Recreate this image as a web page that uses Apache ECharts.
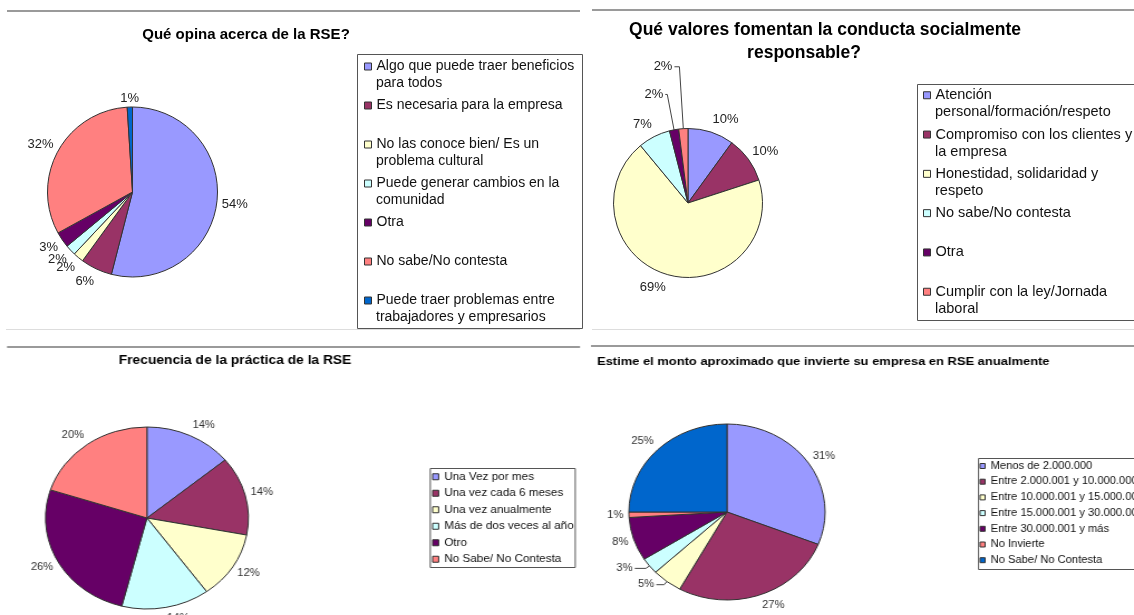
<!DOCTYPE html>
<html style="height:100%">

<head>
    <meta charset="utf-8">
    <script type="text/javascript" src="https://cdn.jsdelivr.net/npm/echarts@6/dist/echarts.min.js"></script>
    <title>RSE</title>
</head>

<body style="height: 100%; margin: 0; background: #fff">
    <!-- mitad superior -->
    <div id="arriba" style="position:absolute; left:0; top:0; width:1134px; height:340px"></div>
    <!-- mitad inferior: la imagen original está estirada en horizontal -->
    <div id="abajo" style="position:absolute; left:0; top:340px; width:1017px; height:275px; transform:scaleX(1.115); transform-origin:0 0"></div>
    <script type="text/javascript">
    var FUENTE = '"Liberation Sans", Arial, sans-serif';
    // paleta por defecto de Excel
    var colores = ['#9999FF', '#993366', '#FFFFCC', '#CCFFFF', '#660066', '#FF8080', '#0066CC'];

    // Qué opina acerca de la RSE?
    var opinaNombres = [
        'Algo que puede traer beneficios\npara todos',
        'Es necesaria para la empresa',
        'No las conoce bien/ Es un\nproblema cultural',
        'Puede generar cambios en la\ncomunidad',
        'Otra',
        'No sabe/No contesta',
        'Puede traer problemas entre\ntrabajadores y empresarios'
    ];
    var opinaValores = [54, 6, 2, 2, 3, 32, 1];

    // Qué valores fomentan la conducta socialmente responsable?
    var valoresNombres = [
        'Atención\npersonal/formación/respeto',
        'Compromiso con los clientes y\nla empresa',
        'Honestidad, solidaridad y\nrespeto',
        'No sabe/No contesta',
        'Otra',
        'Cumplir con la ley/Jornada\nlaboral'
    ];
    var valoresValores = [10, 10, 69, 7, 2, 2];

    // Frecuencia de la práctica de la RSE
    var frecuenciaNombres = [
        'Una Vez por mes',
        'Una vez cada 6 meses',
        'Una vez anualmente',
        'Más de dos veces al año',
        'Otro',
        'No Sabe/ No Contesta'
    ];
    var frecuenciaValores = [14, 14, 12, 14, 26, 20];

    // Monto que invierte la empresa en RSE
    var montoNombres = [
        'Menos de 2.000.000',
        'Entre 2.000.001 y 10.000.000',
        'Entre 10.000.001 y 15.000.000',
        'Entre 15.000.001 y 30.000.000',
        'Entre 30.000.001 y más',
        'No Invierte',
        'No Sabe/ No Contesta'
    ];
    var montoValores = [31, 27, 5, 3, 8, 1, 25];

    // líneas guía de las etiquetas pequeñas (por índice)
    var guiasValores = { 4: { show: true, length: 36, length2: 2 }, 5: { show: true, length: 62, length2: 5 } };
    var guiasMonto = { 2: { show: true, length: 4, length2: 7 }, 3: { show: true, length: 4, length2: 10 } };

    function angulosMedios(valores) {
        var total = 0, acum = 0;
        valores.forEach(function(v) { total += v; });
        return valores.map(function(v) {
            var m = (acum + v / 2) / total * 2 * Math.PI;
            acum += v;
            return m;
        });
    }

    function datos(nombres, valores, guias) {
        return nombres.map(function(n, i) {
            var d = { name: n, value: valores[i], itemStyle: { color: colores[i] } };
            if (guias && guias[i]) d.labelLine = guias[i];
            return d;
        });
    }

    // etiquetas al estilo Excel: fuera del sector, alineadas según el ángulo
    function pastel(nombres, valores, centro, radio, tam, colorEtiqueta, guias) {
        var medios = angulosMedios(valores);
        return {
            type: 'pie',
            center: centro,
            radius: radio,
            startAngle: 90,
            clockwise: true,
            avoidLabelOverlap: false,
            silent: true,
            animation: false,
            itemStyle: { borderColor: '#333', borderWidth: 1 },
            label: { formatter: '{c}%', fontSize: tam, fontFamily: FUENTE, color: colorEtiqueta, distanceToLabelLine: 2 },
            labelLine: { show: false, length: 6, length2: 0, lineStyle: { color: '#444', width: 1 } },
            labelLayout: function(p) {
                if (guias && guias[p.dataIndex]) return { hideOverlap: false };
                var a = medios[p.dataIndex], s = Math.sin(a), c = Math.cos(a);
                var R = radio + 5;
                var centrada = Math.abs(s) <= 0.15;
                return {
                    x: centro[0] + R * s,
                    y: centro[1] - R * c - c * tam * (centrada ? 0.3 : 0.65),
                    align: centrada ? 'center' : (s > 0 ? 'left' : 'right'),
                    hideOverlap: false
                };
            },
            data: datos(nombres, valores, guias)
        };
    }

    // una leyenda por renglón para fijar la posición de cada fila
    function leyendas(nombres, x, y0, paso, tam, alto, iconoW, iconoH) {
        var lista = [];
        nombres.forEach(function(n, i) {
            n.split('\n').forEach(function(texto, j) {
                lista.push({
                    data: [{ name: n, icon: j === 0 ? 'rect' : 'none', itemStyle: { color: colores[i] } }],
                    formatter: function() { return texto; },
                    left: x,
                    top: y0 + i * paso + j * alto - tam / 2,
                    padding: 0,
                    itemWidth: iconoW,
                    itemHeight: iconoH,
                    selectedMode: false,
                    itemStyle: { borderColor: '#333', borderWidth: 1 },
                    textStyle: { fontSize: tam, fontFamily: FUENTE, color: '#111' }
                });
            });
        });
        return lista;
    }

    function titulo(texto, x, y, tam, alinear) {
        return {
            text: texto, left: x, top: y, padding: 0, textAlign: alinear,
            textStyle: { fontSize: tam, fontWeight: 'bold', fontFamily: FUENTE, color: '#000' }
        };
    }

    function linea(x1, y1, x2, y2, color, ancho) {
        return { type: 'line', shape: { x1: x1, y1: y1, x2: x2, y2: y2 }, style: { stroke: color, lineWidth: ancho }, silent: true };
    }

    function caja(x, y, w, h) {
        return { type: 'rect', shape: { x: x, y: y, width: w, height: h }, style: { fill: 'none', stroke: '#555', lineWidth: 1 }, silent: true };
    }

    var chartArriba = echarts.init(document.getElementById('arriba'));
    chartArriba.setOption({
        backgroundColor: '#fff',
        animation: false,
        title: [
            titulo('Qué opina acerca de la RSE?', 246, 27, 15, 'center'),
            titulo('Qué valores fomentan la conducta socialmente', 825, 21, 17.5, 'center'),
            titulo('responsable?', 804, 44, 17.5, 'center')
        ],
        legend: [].concat(
            leyendas(opinaNombres, 364, 66.5, 39, 14, 17, 7, 7),
            leyendas(valoresNombres, 923, 95, 39.3, 14.5, 17, 7, 7)
        ),
        graphic: [
            linea(7, 11, 580, 11, '#9a9a9a', 2),
            linea(592, 10, 1134, 10, '#9a9a9a', 2),
            linea(6, 329.5, 580, 329.5, '#dddddd', 1),
            linea(592, 329.5, 1134, 329.5, '#dddddd', 1),
            caja(357.5, 54.5, 225, 274),
            caja(917.5, 84.5, 225, 236)
        ],
        series: [
            pastel(opinaNombres, opinaValores, [132.5, 192], 85, 13, '#222'),
            pastel(valoresNombres, valoresValores, [688, 203], 74.5, 13, '#222', guiasValores)
        ]
    });

    // coordenadas sin estirar (x / 1.115, y - 340)
    var chartAbajo = echarts.init(document.getElementById('abajo'));
    chartAbajo.setOption({
        backgroundColor: '#fff',
        animation: false,
        title: [
            titulo('Frecuencia de la práctica de la RSE', 210.8, 15, 12.4, 'center'),
            titulo('Estime el monto aproximado que invierte su empresa en RSE anualmente', 535.4, 16, 11.6, 'left')
        ],
        legend: [].concat(
            leyendas(frecuenciaNombres, 387.5, 136.5, 16.5, 10.5, 13, 5.4, 6),
            leyendas(montoNombres, 878.5, 126, 15.7, 10, 12, 4.5, 5)
        ),
        graphic: [
            linea(6.3, 7, 520.2, 7, '#9a9a9a', 2),
            linea(530, 6, 1017, 6, '#9a9a9a', 2),
            caja(385.9, 128.5, 130, 99),
            caja(877.6, 118.5, 150, 111)
        ],
        series: [
            pastel(frecuenciaNombres, frecuenciaValores, [131.8, 178], 91, 10, '#333'),
            pastel(montoNombres, montoValores, [652, 172], 88, 10, '#333', guiasMonto)
        ]
    });
    </script>
</body>

</html>
